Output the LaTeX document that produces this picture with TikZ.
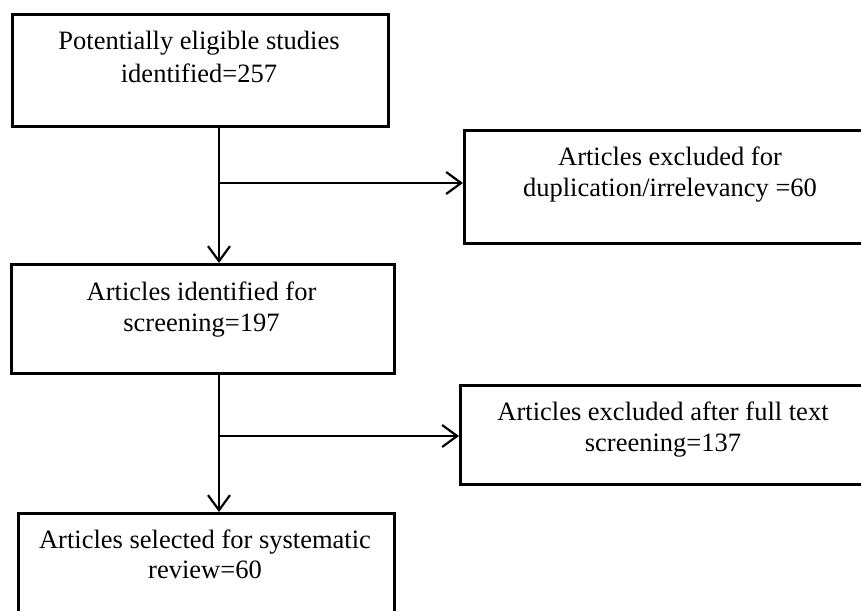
\documentclass[tikz,border=0pt]{standalone}
\usepackage{fontspec}
\setmainfont{Liberation Serif}
\usetikzlibrary{arrows.meta,calc}
\begin{document}
\begin{tikzpicture}[x=1pt,y=-1pt,
  box/.style={draw=black,line width=3pt,inner sep=0pt,anchor=north west},
  txt/.style={anchor=base,inner sep=0pt,font=\fontsize{26.5pt}{31pt}\selectfont},
  conn/.style={draw=black,line width=2.2pt,-{Straight Barb[length=15pt,width=22pt,line width=2.2pt]}},
  seg/.style={draw=black,line width=2.2pt}]
\useasboundingbox (0,0) rectangle (861,610);
\begin{scope}
\clip (0,0) rectangle (861,610);
% boxes
\node[box,minimum width=376pt,minimum height=112pt] (b1) at (11,13) {};
\node[box,minimum width=414pt,minimum height=113pt] (b2) at (463,129) {};
\node[box,minimum width=383pt,minimum height=109pt] (b3) at (10,263) {};
\node[box,minimum width=408pt,minimum height=99pt] (b4) at (459,384) {};
\node[box,minimum width=376pt,minimum height=112pt] (b5) at (17,512) {};
\end{scope}
% texts
\node[txt] (t1a) at (199,50) {Potentially eligible studies};
\node[txt] (t1b) at (199,82) {identified=257};
\node[txt] (t2a) at (670,165) {Articles excluded for};
\node[txt] (t2b) at (670,196) {duplication/irrelevancy =60};
\node[txt] (t3a) at (201.5,300) {Articles identified for};
\node[txt] (t3b) at (201.5,331) {screening=197};
\node[txt] (t4a) at (663,420) {Articles excluded after full text};
\node[txt] (t4b) at (663,451) {screening=137};
\node[txt] (t5a) at (205,548) {Articles selected for systematic};
\node[txt] (t5b) at (205,578) {review=60};
% connectors
\coordinate (j1) at (219,183);
\coordinate (j2) at (219,436);
\draw[conn] (b1.south -| j1) -- (b3.north -| j1);
\draw[conn] (j1) -- (j1 -| b2.west);
\draw[conn] (b3.south -| j2) -- (b5.north -| j2);
\draw[conn] (j2) -- (j2 -| b4.west);
\end{tikzpicture}
\end{document}
